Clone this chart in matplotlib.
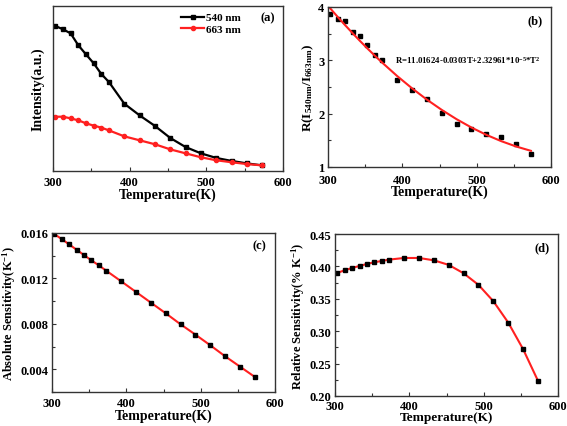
import numpy as np
import matplotlib
matplotlib.use('Agg')
import matplotlib.pyplot as plt
from matplotlib.ticker import MultipleLocator, NullLocator

plt.rcParams['font.family'] = ['Liberation Serif', 'DejaVu Serif']
plt.rcParams['font.weight'] = 'bold'
plt.rcParams['mathtext.fontset'] = 'custom'
plt.rcParams['mathtext.rm'] = 'Liberation Serif:bold'
plt.rcParams['mathtext.it'] = 'Liberation Serif:bold'
plt.rcParams['mathtext.bf'] = 'Liberation Serif:bold'

# temperatures (K)
temp = [303, 313, 323, 333, 343, 353, 363, 373, 393, 413, 433, 453, 473, 493, 513, 533, 553, 573]

# (a) emission intensities (a.u.)
int_540 = [87.9, 85.9, 83.4, 76.2, 70.7, 65.3, 58.8, 53.9, 40.8, 33.7, 27.3, 20.0, 14.5, 10.7, 7.9, 6.1, 4.6, 3.4]
int_663 = [32.9, 32.9, 31.9, 30.7, 28.9, 27.5, 26.3, 24.6, 21.0, 18.6, 16.2, 13.1, 10.7, 8.3, 6.5, 5.3, 4.2, 3.4]

# (b) intensity ratio and fitted curve
ratio = [3.86, 3.77, 3.74, 3.53, 3.45, 3.28, 3.10, 3.00, 2.63, 2.45, 2.28, 2.02, 1.81, 1.72, 1.62, 1.57, 1.43, 1.25]
ratio_fit = [3.974, 3.815, 3.660, 3.510, 3.364, 3.223, 3.087, 2.956, 2.706, 2.476, 2.264, 2.071, 1.896, 1.740, 1.603, 1.485, 1.385, 1.303]

# (c) absolute sensitivity (K^-1)
abs_sens = [0.01591, 0.01547, 0.01500, 0.01453, 0.01406, 0.01359, 0.01315, 0.01268, 0.01175, 0.01081,
            0.00987, 0.00893, 0.00796, 0.00705, 0.00611, 0.00514, 0.00423, 0.00332]

# (d) relative sensitivity (% K^-1)
rel_sens = [0.390, 0.394, 0.3976, 0.4007, 0.4038, 0.4064, 0.4084, 0.4105, 0.4130, 0.4130,
            0.4094, 0.4023, 0.3894, 0.3715, 0.3463, 0.3134, 0.2724, 0.2236]

RED = '#ff2020'
W, H = 567, 427

def box(l, t, r, b):
    return [l / W, 1 - b / H, (r - l) / W, (b - t) / H]

def style(ax):
    for s in ax.spines.values():
        s.set_color('#333333')
        s.set_linewidth(1.0)
    ax.tick_params(which='both', direction='in', labelsize=9, width=0.8, color='#333333', pad=2.5)
    ax.tick_params(axis='x', pad=3.5)
    ax.tick_params(which='major', length=3)
    ax.tick_params(which='minor', length=2)
    ax.set_xlim(300, 600)
    ax.xaxis.set_major_locator(MultipleLocator(100))
    ax.xaxis.set_minor_locator(MultipleLocator(50))
    ax.set_xlabel('Temperature(K)', fontsize=10, fontweight='bold', labelpad=0)
    for lab in ax.get_xticklabels() + ax.get_yticklabels():
        lab.set_fontweight('bold')

fig = plt.figure(figsize=(5.67, 4.27), dpi=100)

# (a)
ax1 = fig.add_axes(box(53, 7, 283, 172))
ax1.plot(temp, int_540, color='black', marker='s', ms=3, lw=1.6, label='540 nm')
ax1.plot(temp, int_663, color=RED, marker='o', ms=3, lw=1.6, label='663 nm')
ax1.set_ylim(0, 100)
style(ax1)
ax1.yaxis.set_major_locator(NullLocator())
ax1.set_ylabel('Intensity(a.u.)', fontsize=10, fontweight='bold', labelpad=6)
ax1.legend(loc='upper right', bbox_to_anchor=(0.845, 1.0), borderaxespad=0.2, frameon=False,
           handlelength=2.0, handletextpad=0.2, labelspacing=0.15,
           prop={'weight': 'bold', 'size': 8})
ax1.text(0.935, 0.93, '(a)', transform=ax1.transAxes, fontsize=9, fontweight='bold', ha='center', va='center')

# (b)
ax2 = fig.add_axes(box(328, 8, 551, 168))
ax2.plot(temp, ratio, 's', color='black', ms=3.5)
ax2.plot(temp, ratio_fit, color=RED, lw=1.5)
ax2.set_ylim(1, 4)
style(ax2)
ax2.tick_params(axis='x', pad=5)
ax2.yaxis.set_major_locator(MultipleLocator(1))
ax2.yaxis.set_minor_locator(MultipleLocator(0.5))
ax2.set_xlabel('Temperature(K)', fontsize=10, fontweight='bold', labelpad=-1)
ax2.set_ylabel(r'R(I$_{540nm}$/I$_{663nm}$)', fontsize=9.5, fontweight='bold', labelpad=2)
ax2.text(0.93, 0.92, '(b)', transform=ax2.transAxes, fontsize=9, fontweight='bold', ha='center', va='center')
ax2.text(0.30, 0.675, r'R=11.01624-0.0303T+2.32961*10$^{-5}$*T$^{2}$', transform=ax2.transAxes,
         fontsize=6.3, fontweight='bold', ha='left', va='center')

# (c)
ax3 = fig.add_axes(box(52, 234, 275, 393))
ax3.plot(temp, abs_sens, color=RED, lw=1.5)
ax3.plot(temp, abs_sens, 's', color='black', ms=2.5)
ax3.set_ylim(0.002, 0.016)
style(ax3)
ax3.yaxis.set_minor_locator(MultipleLocator(0.002))
ax3.set_yticks([0.004, 0.008, 0.012, 0.016])
ax3.set_yticklabels(['0.004', '0.008', '0.012', '0.016'], fontweight='bold')
ax3.set_ylabel(r'Absolute Sensitivity(K$^{-1}$)', fontsize=9, fontweight='bold', labelpad=2)
ax3.text(0.93, 0.92, '(c)', transform=ax3.transAxes, fontsize=9, fontweight='bold', ha='center', va='center')

# (d)
ax4 = fig.add_axes(box(335, 235, 558, 397))
ax4.plot(temp, rel_sens, color=RED, lw=1.5)
ax4.plot(temp, rel_sens, 's', color='black', ms=2.5)
ax4.set_ylim(0.20, 0.45)
style(ax4)
ax4.tick_params(axis='x', pad=3)
ax4.yaxis.set_minor_locator(MultipleLocator(0.025))
ax4.set_yticks([0.20, 0.25, 0.30, 0.35, 0.40, 0.45])
ax4.set_yticklabels(['0.20', '0.25', '0.30', '0.35', '0.40', '0.45'], fontweight='bold')
ax4.set_xlabel('Temperature(K)', fontsize=9.5, fontweight='bold', labelpad=-0.5)
ax4.set_ylabel(r'Relative Sensitivity(% K$^{-1}$)', fontsize=9, fontweight='bold', labelpad=2)
ax4.text(0.93, 0.92, '(d)', transform=ax4.transAxes, fontsize=9, fontweight='bold', ha='center', va='center')

fig.savefig('out.png', dpi=100)
